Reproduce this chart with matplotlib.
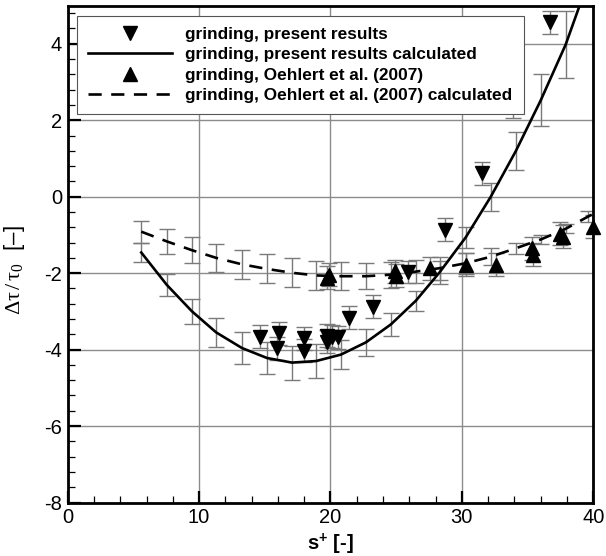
import numpy as np
import matplotlib
matplotlib.use("Agg")
import matplotlib.pyplot as plt
from matplotlib.ticker import MultipleLocator

plt.rcParams['font.family'] = 'Liberation Sans'
plt.rcParams['axes.unicode_minus'] = False
plt.rcParams['mathtext.fontset'] = 'custom'
plt.rcParams['mathtext.rm'] = 'Liberation Serif'
plt.rcParams['mathtext.it'] = 'Liberation Serif:italic'
plt.rcParams['mathtext.bf'] = 'Liberation Sans:bold'

# calculated curves, read at the error bar positions
calc_x = [5.6, 7.55, 9.46, 11.3, 13.27, 15.17, 17.07, 18.9, 20.8, 22.7,
          24.6, 26.5, 28.3, 30.3, 32.2, 34.1, 36.0, 37.9]
present_calc_y = [-1.46, -2.31, -3.0, -3.55, -3.96, -4.22, -4.34, -4.30, -4.13, -3.81,
                  -3.34, -2.72, -1.98, -1.06, 0.0, 1.19, 2.52, 3.98]
present_calc_err = [0.24, 0.29, 0.33, 0.38, 0.41, 0.43, 0.445, 0.435, 0.39, 0.36,
                    0.31, 0.26, 0.30, 0.27, 0.37, 0.50, 0.68, 0.87]
present_line_x = calc_x + [38.96]
present_line_y = present_calc_y + [5.0]

oehlert_calc_x = calc_x + [39.6]
oehlert_calc_y = [-0.915, -1.17, -1.40, -1.60, -1.77, -1.89, -1.99, -2.06, -2.08, -2.08,
                  -2.04, -1.96, -1.87, -1.74, -1.57, -1.35, -1.12, -0.84, -0.52]
oehlert_calc_err = [0.29, 0.32, 0.34, 0.36, 0.37, 0.38, 0.38, 0.38, 0.37, 0.34,
                    0.34, 0.31, 0.30, 0.28, 0.22, 0.15, 0.13, 0.12, 0.14]
oehlert_line_x = oehlert_calc_x + [40.0]
oehlert_line_y = oehlert_calc_y + [-0.45]

# measured points
present_x = [14.6, 15.9, 16.1, 18.0, 18.0, 19.7, 19.7, 20.1, 20.6, 21.4,
             23.2, 25.9, 28.7, 31.5, 33.9, 36.7]
present_y = [-3.66, -3.96, -3.57, -3.70, -4.03, -3.64, -3.80, -3.66, -3.68, -3.17,
             -2.88, -1.97, -0.87, 0.61, 2.37, 4.56]
present_err = [0.3] * len(present_x)

oehlert_x = [19.7, 19.9, 24.9, 25.0, 27.55, 30.3, 32.6, 35.3, 35.4, 37.5, 37.7, 40.0]
oehlert_y = [-2.12, -2.04, -1.95, -2.07, -1.87, -1.78, -1.78, -1.35, -1.52, -0.97, -1.05, -0.78]
oehlert_err = [0.3] * len(oehlert_x)

bar_color = '#7a7a7a'

fig = plt.figure(figsize=(6.06, 5.56), dpi=100)
ax = fig.add_axes([0.1117, 0.0962, 0.8673, 0.8938])

ax.grid(True, which='major', color='#8c8c8c', lw=1.0, zorder=0)
ax.set_axisbelow(True)

eb_kw = dict(fmt='none', ecolor=bar_color, elinewidth=1.0, capsize=6, capthick=1.0, zorder=2)
ax.errorbar(calc_x, present_calc_y, yerr=present_calc_err, **eb_kw)
ax.errorbar(oehlert_calc_x, oehlert_calc_y, yerr=oehlert_calc_err, **eb_kw)
ax.errorbar(present_x, present_y, yerr=present_err, **eb_kw)
ax.errorbar(oehlert_x, oehlert_y, yerr=oehlert_err, **eb_kw)

ax.plot(present_x, present_y, 'v', color='black', ms=10, zorder=4, clip_on=False,
        label='grinding, present results')
ax.plot(present_line_x, present_line_y, '-', color='black', lw=1.9, zorder=3,
        label='grinding, present results calculated')
ax.plot(oehlert_x, oehlert_y, '^', color='black', ms=10, zorder=4, clip_on=False,
        label='grinding, Oehlert et al. (2007)')
ax.plot(oehlert_line_x, oehlert_line_y, '--', color='black', lw=1.9, dashes=(5, 3.6),
        zorder=3, label='grinding, Oehlert et al. (2007) calculated')

ax.set_xlim(0, 40)
ax.set_ylim(-8, 5)
ax.set_xticks([0, 10, 20, 30, 40])
ax.set_yticks([-8, -6, -4, -2, 0, 2, 4])
ax.xaxis.set_minor_locator(MultipleLocator(2))
ax.yaxis.set_minor_locator(MultipleLocator(0.4))
ax.tick_params(which='major', direction='in', length=9, width=1.6, labelsize=14.5,
               pad=4, top=False, right=False)
ax.tick_params(which='minor', direction='in', length=5, width=0.9, top=False, right=False)
for s in ax.spines.values():
    s.set_linewidth(2.0)

ax.set_xlabel(r'$\mathbf{s^{+}}$ [-]', fontsize=14.5, fontweight='bold')
ax.set_ylabel(r'$\mathrm{\Delta\tau\,/\,\tau_0}$  [–]', fontsize=16)
ax.yaxis.set_label_coords(-0.078, 0.468)
ax.xaxis.set_label_coords(0.5, -0.058)

leg = ax.legend(loc='upper left', bbox_to_anchor=(0.018, 0.979), borderaxespad=0,
                prop={'weight': 'bold', 'size': 12.4}, handlelength=4.85, handletextpad=0.78,
                borderpad=0.65, labelspacing=0.3, fancybox=False, framealpha=1,
                edgecolor='#555555')
leg.get_frame().set_linewidth(0.8)
leg.set_zorder(10)

fig.savefig('out.png', dpi=100)
